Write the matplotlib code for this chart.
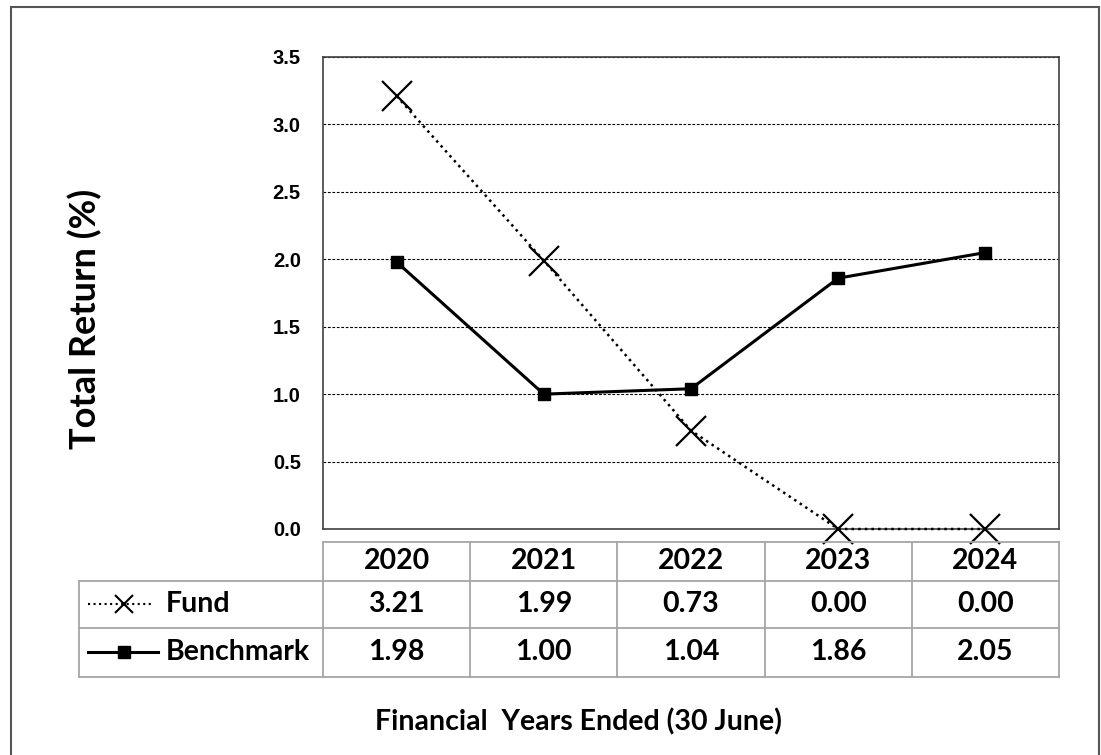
import matplotlib
matplotlib.use("Agg")
import matplotlib.pyplot as plt
from matplotlib.patches import Rectangle

# Chart data
years = ["2020", "2021", "2022", "2023", "2024"]
fund = [3.21, 1.99, 0.73, 0.00, 0.00]
benchmark = [1.98, 1.00, 1.04, 1.86, 2.05]
series_names = ["Fund", "Benchmark"]
y_ticks = [0.0, 0.5, 1.0, 1.5, 2.0, 2.5, 3.0, 3.5]

W, H = 1101, 755
fig = plt.figure(figsize=(W / 100, H / 100), dpi=100)


# Convert pixel box (left, top, right, bottom) to figure fractions
def box(l, t, r, b):
    return [l / W, 1 - b / H, (r - l) / W, (b - t) / H]


# Outer frame
fig.add_artist(Rectangle((11 / W, -0.05), (1099 - 11) / W, 1.05 - 7 / H,
                         transform=fig.transFigure, fill=False,
                         edgecolor="#555555", linewidth=1.5))

# Main plot
ax = fig.add_axes(box(323, 57, 1059, 529))
x = list(range(len(years)))
ax.plot(x, fund, linestyle=":", color="black", linewidth=1.8,
        marker="x", markersize=21, markeredgewidth=1.6, clip_on=False, zorder=3)
ax.plot(x, benchmark, linestyle="-", color="black", linewidth=2.2,
        marker="s", markersize=8, clip_on=False, zorder=4)

ax.set_xlim(-0.5, len(years) - 0.5)
ax.set_ylim(0, 3.5)
ax.set_yticks(y_ticks)
ax.set_yticklabels(["%.1f" % v for v in y_ticks],
                   fontfamily="Liberation Sans", fontweight="bold", fontsize=14.5)
ax.tick_params(axis="y", length=0, pad=16)
ax.set_xticks([])
ax.yaxis.grid(True, linestyle=(0, (2.5, 1.5)), color="black", linewidth=0.8)
ax.set_axisbelow(True)
for s in ax.spines.values():
    s.set_color("#404040")
    s.set_linewidth(1.2)

ax.set_ylabel("Total Return (%)", fontfamily="Lato", fontweight="bold",
              fontsize=26, labelpad=0, va="center")
ax.yaxis.set_label_coords((85 - 323) / (1059 - 323), (529 - 319) / (529 - 57))

# Data table below plot
tax = fig.add_axes(box(79, 542, 1059, 677))
px = (1059 - 323) / len(years)
label_w = (323 - 79) / px
tax.set_xlim(-0.5 - label_w, len(years) - 0.5)
tax.set_ylim(677, 542)
tax.axis("off")

grid_c = "#a6a6a6"
rows_y = [542, 581, 628, 677]
left = -0.5 - label_w
right = len(years) - 0.5
# horizontal lines
tax.plot([-0.5, right], [rows_y[0]] * 2, color=grid_c, lw=1.3, clip_on=False)
for yy in rows_y[1:]:
    tax.plot([left, right], [yy] * 2, color=grid_c, lw=1.3, clip_on=False)
# vertical lines
tax.plot([left, left], [rows_y[1], rows_y[3]], color=grid_c, lw=1.3, clip_on=False)
for i in range(len(years) + 1):
    tax.plot([i - 0.5] * 2, [rows_y[0], rows_y[3]], color=grid_c, lw=1.3, clip_on=False)

tfont = dict(fontfamily="Lato", fontweight="bold", fontsize=20.5, color="black",
             ha="center", va="center")
for i, yr in enumerate(years):
    tax.text(i, (rows_y[0] + rows_y[1]) / 2, yr, **tfont)
    tax.text(i, (rows_y[1] + rows_y[2]) / 2, "%.2f" % fund[i], **tfont)
    tax.text(i, (rows_y[2] + rows_y[3]) / 2, "%.2f" % benchmark[i], **tfont)


# legend keys in the label column
def xpix(p):
    return -0.5 - (323 - p) / px


fy = (rows_y[1] + rows_y[2]) / 2
by = (rows_y[2] + rows_y[3]) / 2
tax.plot([xpix(88), xpix(153)], [fy, fy], linestyle=":", color="black", lw=1.5)
tax.plot([xpix(124)], [fy], marker="x", color="black", markersize=13, markeredgewidth=1.5)
tax.plot([xpix(88), xpix(158)], [by, by], linestyle="-", color="black", lw=2.2)
tax.plot([xpix(124)], [by], marker="s", color="black", markersize=8.5)
lfont = dict(tfont, ha="left")
tax.text(xpix(166), fy, series_names[0], **lfont)
tax.text(xpix(166), by, series_names[1], **lfont)

fig.text(578 / W, 1 - 722 / H, "Financial  Years Ended (30 June)",
         fontfamily="Lato", fontweight="bold", fontsize=20.5, ha="center", va="center")

fig.savefig("out.png", dpi=100)
